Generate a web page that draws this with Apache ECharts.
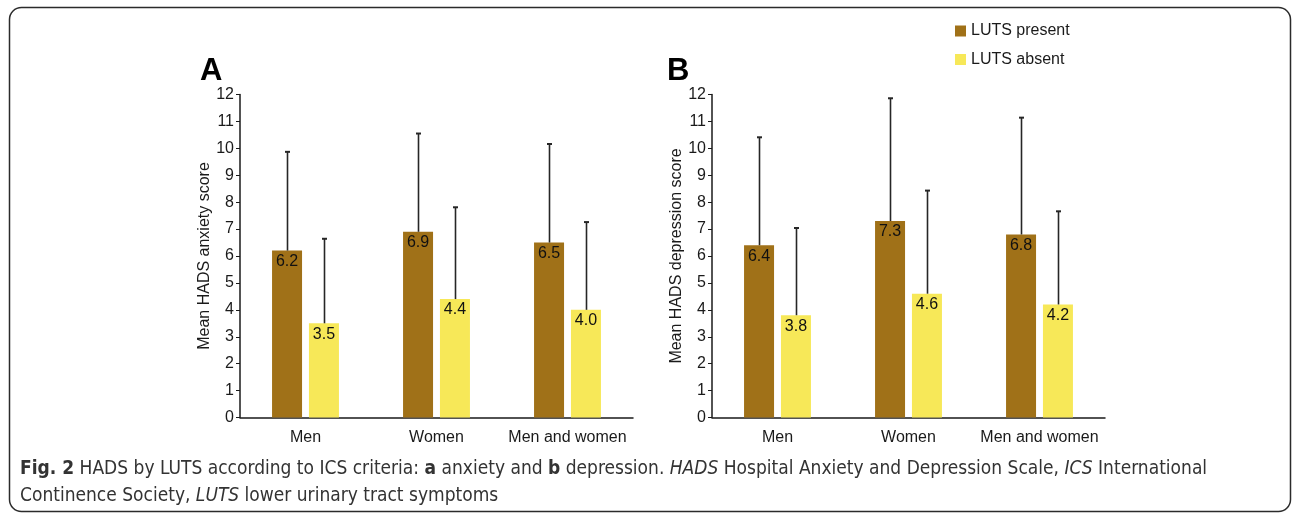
<!DOCTYPE html>
<html>
<head>
<meta charset="utf-8">
<script src="https://cdn.jsdelivr.net/npm/echarts@6/dist/echarts.min.js"></script>
<style>
html,body{margin:0;padding:0;background:#fff;}
#chart{width:1292px;height:517px;}
</style>
</head>
<body>
<div id="chart"></div>
<script>
// ---- data ----
var categories = ['Men', 'Women', 'Men and women'];
var seriesNames = ['LUTS present', 'LUTS absent'];
var yTicks = [0, 12, 1]; // min, max, interval

// Panel A: anxiety
var anxPresent = [6.2, 6.9, 6.5];
var anxAbsent = [3.5, 4.4, 4.0];
var anxPresentUpper = [9.87, 10.55, 10.16];
var anxAbsentUpper = [6.64, 7.81, 7.26];

// Panel B: depression
var depPresent = [6.4, 7.3, 6.8];
var depAbsent = [3.8, 4.6, 4.2];
var depPresentUpper = [10.41, 11.86, 11.14];
var depAbsentUpper = [7.04, 8.43, 7.66];

var panelTitles = ['A', 'B'];
var yNames = ['Mean HADS anxiety score', 'Mean HADS depression score'];
var captionLine1 = '{b|Fig. 2} HADS by LUTS according to ICS criteria: {b|a} anxiety and {b|b} depression. {i|HADS} Hospital Anxiety and Depression Scale, {i|ICS} International';
var captionLine2 = 'Continence Society, {i|LUTS} lower urinary tract symptoms';

// ---- style ----
var COL_PRESENT = '#A07118';
var COL_ABSENT = '#F7E858';
var FONT = '"Liberation Sans", Arial, sans-serif';
var CAP_FONT = '"Liberation Sans Narrow", "DejaVu Sans Condensed", sans-serif';
var FS = 16;
var CAP_FS = 19;
var BAR_W = 30;
var BAR_OFF = 18.5;

var chart = echarts.init(document.getElementById('chart'), null, {renderer: 'canvas'});

function errRender(offset) {
  return function (params, api) {
    var c = api.value(0);
    var lo = api.coord([c, api.value(1)]);
    var hi = api.coord([c, api.value(2)]);
    var x = Math.round(lo[0] + offset) + 0.5;
    return {
      type: 'group',
      children: [
        {type: 'line', shape: {x1: x, y1: lo[1], x2: x, y2: hi[1]}, style: {stroke: '#262626', lineWidth: 1.6}},
        {type: 'line', shape: {x1: x - 2.5, y1: hi[1], x2: x + 2.5, y2: hi[1]}, style: {stroke: '#262626', lineWidth: 2}}
      ]
    };
  };
}

function errData(mean, upper) {
  return mean.map(function (m, i) { return [i, m, upper[i]]; });
}

var grids = [
  {left: 240, top: 94.5, width: 393, height: 323},
  {left: 712, top: 94.5, width: 393, height: 323}
];

var xAxes = [], yAxes = [], series = [];
var panels = [
  [anxPresent, anxAbsent, anxPresentUpper, anxAbsentUpper],
  [depPresent, depAbsent, depPresentUpper, depAbsentUpper]
];

panels.forEach(function (p, gi) {
  xAxes.push({
    type: 'category', gridIndex: gi, data: categories,
    axisLine: {lineStyle: {color: '#1a1a1a', width: 1.5}},
    axisTick: {show: false},
    axisLabel: {color: '#1a1a1a', fontSize: FS, fontFamily: FONT, margin: 12, interval: 0}
  });
  yAxes.push({
    type: 'value', gridIndex: gi, min: yTicks[0], max: yTicks[1], interval: yTicks[2],
    name: yNames[gi], nameLocation: 'middle', nameGap: 27,
    nameTextStyle: {color: '#1a1a1a', fontSize: FS, fontFamily: FONT},
    axisLine: {show: true, lineStyle: {color: '#1a1a1a', width: 1.5}},
    axisTick: {show: true, length: 4, lineStyle: {color: '#1a1a1a'}},
    splitLine: {show: false},
    axisLabel: {color: '#1a1a1a', fontSize: FS, fontFamily: FONT, margin: 6}
  });
  var lbl = {show: true, position: 'insideTop', distance: 3, color: '#111', fontSize: FS, fontFamily: FONT,
    formatter: function (v) { return v.value.toFixed(1); }};
  series.push({
    name: seriesNames[0], type: 'bar', xAxisIndex: gi, yAxisIndex: gi, data: p[0],
    barWidth: BAR_W, barGap: '23%', itemStyle: {color: COL_PRESENT}, label: lbl
  });
  series.push({
    name: seriesNames[1], type: 'bar', xAxisIndex: gi, yAxisIndex: gi, data: p[1],
    barWidth: BAR_W, barGap: '23%', itemStyle: {color: COL_ABSENT}, label: lbl
  });
  series.push({
    type: 'custom', xAxisIndex: gi, yAxisIndex: gi, renderItem: errRender(-BAR_OFF),
    data: errData(p[0], p[2]), encode: {x: 0, y: [1, 2]}, z: 3, silent: true
  });
  series.push({
    type: 'custom', xAxisIndex: gi, yAxisIndex: gi, renderItem: errRender(BAR_OFF),
    data: errData(p[1], p[3]), encode: {x: 0, y: [1, 2]}, z: 3, silent: true
  });
});

var option = {
  backgroundColor: '#fff',
  animation: false,
  grid: grids,
  xAxis: xAxes,
  yAxis: yAxes,
  legend: {
    data: seriesNames, orient: 'vertical', left: 950, top: 18,
    itemWidth: 11, itemHeight: 11, itemGap: 12.5, icon: 'rect',
    textStyle: {color: '#1a1a1a', fontSize: FS, fontFamily: FONT}
  },
  title: [
    {text: panelTitles[0], left: 195, top: 51, textStyle: {fontSize: 31, fontWeight: 'bold', color: '#000', fontFamily: FONT}},
    {text: panelTitles[1], left: 662, top: 51, textStyle: {fontSize: 31, fontWeight: 'bold', color: '#000', fontFamily: FONT}},
    {text: captionLine1, left: 15, top: 455, textStyle: {fontSize: CAP_FS, fontWeight: 'normal', color: '#333', fontFamily: CAP_FONT,
      rich: {b: {fontWeight: 'bold', fontSize: CAP_FS, color: '#333', fontFamily: CAP_FONT},
             i: {fontStyle: 'italic', fontSize: CAP_FS, color: '#333', fontFamily: CAP_FONT}}}},
    {text: captionLine2, left: 15, top: 482, textStyle: {fontSize: CAP_FS, fontWeight: 'normal', color: '#333', fontFamily: CAP_FONT,
      rich: {i: {fontStyle: 'italic', fontSize: CAP_FS, color: '#333', fontFamily: CAP_FONT}}}}
  ],
  graphic: [
    {type: 'rect', shape: {x: 9.5, y: 7.5, width: 1281, height: 504, r: 12}, style: {fill: 'none', stroke: '#2b2b2b', lineWidth: 1.5}, silent: true, z: -1}
  ],
  series: series
};
chart.setOption(option);
</script>
</body>
</html>
